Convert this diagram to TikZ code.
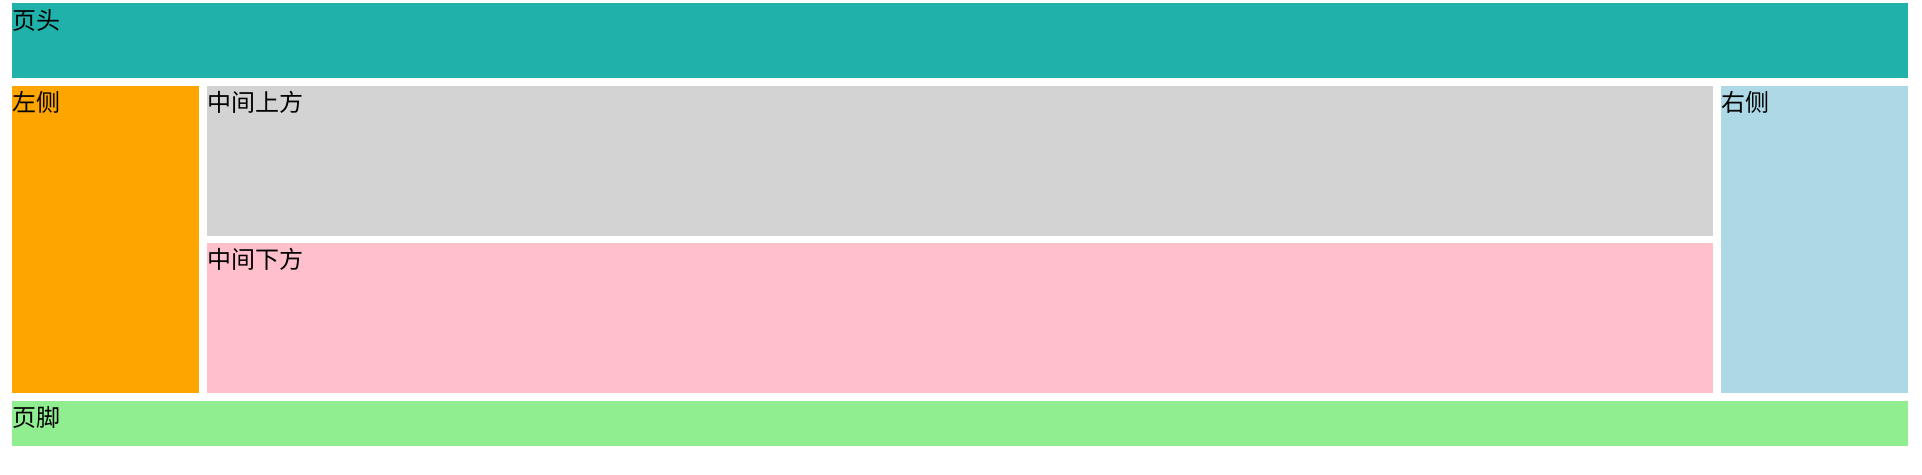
\documentclass[tikz,border=0pt]{standalone}
\usepackage{fontspec}
\newfontfamily\cjk{Noto Sans CJK SC}
\definecolor{cHead}{HTML}{20B2AA}
\definecolor{cLeft}{HTML}{FFA500}
\definecolor{cMidUp}{HTML}{D3D3D3}
\definecolor{cMidDown}{HTML}{FFC0CB}
\definecolor{cRight}{HTML}{ADD8E6}
\definecolor{cFoot}{HTML}{90EE90}
\tikzset{
  area/.style={draw=none, inner sep=0pt, outer sep=0pt, anchor=north west},
  lbl/.style={inner sep=0pt, anchor=base west, font=\cjk\fontsize{24}{24}\selectfont, text=black},
}
\begin{document}
\begin{tikzpicture}[x=1pt,y=-1pt]
\useasboundingbox (0,0) rectangle (1922,474);
\node[area, fill=cHead, minimum width=1896pt, minimum height=75pt] (header) at (12,3) {};
\node[area, fill=cLeft, minimum width=187pt, minimum height=307pt] (left) at (12,86) {};
\node[area, fill=cMidUp, minimum width=1506pt, minimum height=150pt] (midup) at (207,86) {};
\node[area, fill=cMidDown, minimum width=1506pt, minimum height=150pt] (middown) at (207,243) {};
\node[area, fill=cRight, minimum width=187pt, minimum height=307pt] (right) at (1721,86) {};
\node[area, fill=cFoot, minimum width=1896pt, minimum height=45pt] (footer) at (12,401) {};
\node[lbl] (theader) at ([yshift=-26pt]header.north west) {页头};
\node[lbl] (tleft) at ([yshift=-25pt]left.north west) {左侧};
\node[lbl] (tmidup) at ([yshift=-25pt]midup.north west) {中间上方};
\node[lbl] (tmiddown) at ([yshift=-25pt]middown.north west) {中间下方};
\node[lbl] (tright) at ([yshift=-25pt]right.north west) {右侧};
\node[lbl] (tfooter) at ([yshift=-25pt]footer.north west) {页脚};
\end{tikzpicture}
\end{document}
